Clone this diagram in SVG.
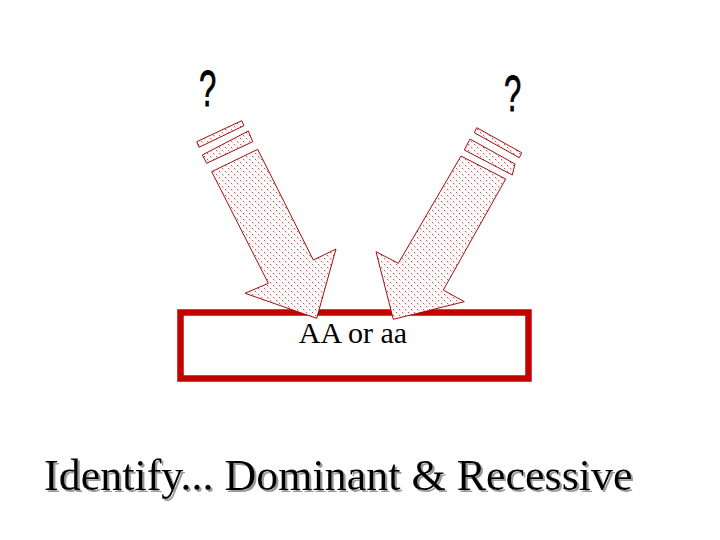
<svg xmlns="http://www.w3.org/2000/svg" width="720" height="540" viewBox="0 0 720 540">
<defs>
<pattern id="dots" width="6" height="6" patternUnits="userSpaceOnUse">
<rect width="6" height="6" fill="#fffafa"/>
<rect x="0" y="0" width="1" height="1" fill="#b05868"/>
<rect x="3" y="3" width="1" height="1" fill="#b05868"/>
<rect x="1" y="1" width="1" height="1" fill="#e8c0c8"/>
<rect x="4" y="4" width="1" height="1" fill="#e8c0c8"/>
</pattern>
<filter id="shadow" x="-5%" y="-20%" width="110%" height="150%">
<feDropShadow dx="2" dy="2" stdDeviation="0.6" flood-color="#9a9a9a" flood-opacity="1"/>
</filter>
</defs>
<style>
.arrow{fill:url(#dots);stroke:#a01010;stroke-width:1;stroke-linejoin:miter}
.q{font-family:"Liberation Sans","DejaVu Sans",sans-serif;font-size:50px;fill:#000;stroke:#000;stroke-width:0.8}
.serif{font-family:"Liberation Serif","Times New Roman",serif;fill:#000}
</style>
<rect width="720" height="540" fill="#ffffff"/>
<g id="box">
<rect x="180.5" y="312.5" width="348" height="66" fill="#ffffff" stroke="#c40000" stroke-width="6.5"/>
<text class="serif" x="353" y="343" font-size="30" text-anchor="middle">AA or aa</text>
</g>
<g id="q-left"><text class="q" transform="translate(199,106) scale(0.62,1)">?</text></g>
<g id="q-right"><text class="q" transform="translate(504,111) scale(0.62,1)">?</text></g>
<g id="connectors">
<g id="arrow-left">
<polygon class="arrow" points="196.7,141.7 241.7,120.7 244,125.7 199,147.3"/>
<polygon class="arrow" points="202.3,155 248.3,131 252.7,141.7 206.7,163.3"/>
<polygon class="arrow" points="211.7,171.7 257.7,149.3 313.3,260 336,249 316.7,318.3 245,293.3 268.3,283.3"/>
</g>
<g id="arrow-right">
<polygon class="arrow" points="476.7,127.7 521.7,152.7 519.3,157.7 474.3,132.7"/>
<polygon class="arrow" points="470,139 515,164 512.3,175 464.3,150"/>
<polygon class="arrow" points="461,156 505.7,179 443.3,290 464.3,301.7 393.3,319.3 376,251.7 398.3,263.3"/>
</g>
</g>
<g id="title">
<text class="serif" x="44" y="490" font-size="44" filter="url(#shadow)">Identify... Dominant &amp; Recessive</text>
</g>
</svg>
